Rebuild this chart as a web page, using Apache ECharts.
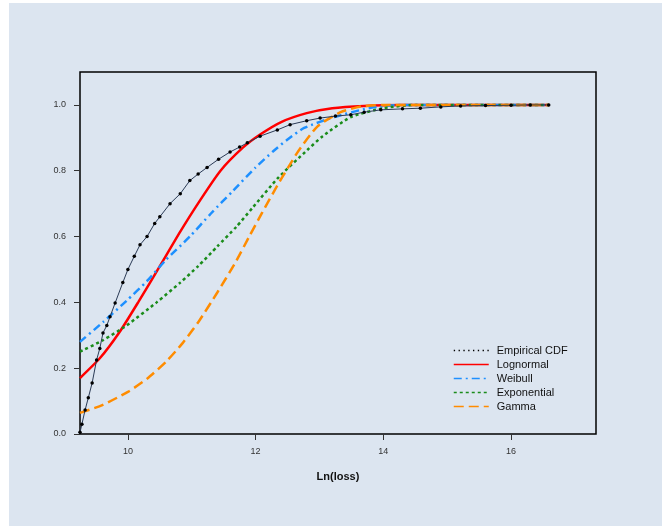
<!DOCTYPE html>
<html>
<head>
<meta charset="utf-8">
<script src="https://cdn.jsdelivr.net/npm/echarts@6/dist/echarts.min.js"></script>
<style>
html,body{margin:0;padding:0;background:#fff;overflow:hidden;}
#chart{position:absolute;left:9px;top:3px;width:653px;height:523px;background:#dce5f0;}
</style>
</head>
<body>
<div id="chart"></div>
<script>
// ticks
var xTicks = [10, 12, 14, 16];
var yTicks = [0, 0.2, 0.4, 0.6, 0.8, 1.0];

// empirical cdf
var empX = [9.25, 9.28, 9.33, 9.38, 9.44, 9.51, 9.56, 9.61, 9.67, 9.72, 9.8, 9.92, 10.0, 10.1, 10.19, 10.3, 10.42, 10.5, 10.66, 10.82, 10.97, 11.1, 11.24, 11.42, 11.6, 11.75, 11.87, 12.07, 12.34, 12.54, 12.8, 13.01, 13.25, 13.49, 13.7, 13.96, 14.3, 14.58, 14.9, 15.21, 15.6, 16.0, 16.3, 16.59];
var empY = [0.005, 0.03, 0.073, 0.11, 0.155, 0.225, 0.26, 0.307, 0.33, 0.356, 0.398, 0.46, 0.5, 0.54, 0.575, 0.60, 0.64, 0.66, 0.70, 0.73, 0.77, 0.79, 0.81, 0.835, 0.857, 0.872, 0.885, 0.905, 0.924, 0.94, 0.952, 0.96, 0.966, 0.97, 0.978, 0.985, 0.988, 0.99, 0.994, 0.997, 0.998, 0.999, 1.0, 1.0];

// fitted distributions
var lnX = [9.25, 9.56, 9.87, 10.16, 10.5, 10.82, 11.13, 11.45, 11.8, 12.07, 12.4, 12.8, 13.2, 13.7, 14.3, 16.59];
var lnY = [0.17, 0.23, 0.31, 0.40, 0.51, 0.615, 0.71, 0.80, 0.87, 0.91, 0.948, 0.975, 0.99, 0.997, 1.0, 1.0];

var wbX = [9.25, 9.61, 9.98, 10.3, 10.6, 10.97, 11.3, 11.65, 12.0, 12.28, 12.5, 12.76, 13.23, 13.77, 14.3, 15.0, 16.59];
var wbY = [0.28, 0.34, 0.405, 0.465, 0.53, 0.60, 0.67, 0.74, 0.81, 0.86, 0.895, 0.93, 0.963, 0.99, 1.0, 1.0, 1.0];

var exX = [9.25, 9.61, 9.98, 10.45, 10.82, 11.1, 11.4, 11.7, 11.95, 12.36, 12.81, 13.05, 13.49, 14.0, 14.5, 15.5, 16.59];
var exY = [0.25, 0.285, 0.33, 0.40, 0.46, 0.51, 0.57, 0.63, 0.687, 0.78, 0.863, 0.905, 0.963, 0.99, 1.0, 1.0, 1.0];

var gmX = [9.25, 9.6, 10.0, 10.3, 10.6, 10.86, 11.12, 11.4, 11.68, 11.9, 12.1, 12.34, 12.51, 12.67, 12.97, 13.33, 13.65, 14.0, 15.0, 16.59];
var gmY = [0.064, 0.088, 0.128, 0.168, 0.22, 0.277, 0.345, 0.43, 0.52, 0.60, 0.672, 0.755, 0.81, 0.86, 0.935, 0.978, 0.995, 1.0, 1.0, 1.0];

function pairs(xs, ys){
	return xs.map(function(x, i){ return [x, ys[i]]; });
}

var myChart = echarts.init(document.getElementById("chart"));
var option = {
	backgroundColor: "#dce5f0",
	animation: false,
	grid: {
		left: 71, top: 69, right: 66, bottom: 92,
		show: true,
		borderColor: "#000",
		borderWidth: 1.5,
		backgroundColor: "transparent"
	},
	legend: {
		orient: "vertical",
		left: 439,
		top: 337,
		itemWidth: 35,
		itemHeight: 6,
		itemGap: 3,
		lineStyle: { width: 1.5 },
		itemStyle: { opacity: 0 },
		textStyle: { fontFamily: "Liberation Sans, Arial", fontSize: 11, color: "#111", padding: [0, 0, 0, 3] },
		data: [
			{ name: "Empirical CDF", itemStyle: { opacity: 1 }, icon: "path://M0,0h1.4v1.4h-1.4z M5,0h1.4v1.4h-1.4z M10,0h1.4v1.4h-1.4z M15,0h1.4v1.4h-1.4z M20,0h1.4v1.4h-1.4z M25,0h1.4v1.4h-1.4z M30,0h1.4v1.4h-1.4z M35,0h1.4v1.4h-1.4z" },
			"Lognormal", "Weibull", "Exponential", "Gamma"
		]
	},
	xAxis: {
		type: "value",
		min: 9.25,
		max: 17.33,
		name: "Ln(loss)",
		nameLocation: "middle",
		nameGap: 37,
		nameTextStyle: { fontFamily: "Liberation Sans, Arial", fontSize: 11, fontWeight: "bold", color: "#111" },
		axisLine: { show: false },
		splitLine: { show: false },
		axisTick: { show: true, length: 6, customValues: xTicks, lineStyle: { color: "#333" } },
		axisLabel: { customValues: xTicks, margin: 13, fontSize: 9, color: "#333", fontFamily: "Liberation Sans, Arial" }
	},
	yAxis: {
		type: "value",
		min: 0,
		max: 1.1,
		axisLine: { show: false },
		splitLine: { show: false },
		axisTick: { show: true, length: 6, customValues: yTicks, lineStyle: { color: "#333" } },
		axisLabel: {
			customValues: yTicks, margin: 14, fontSize: 9, color: "#333", fontFamily: "Liberation Sans, Arial",
			formatter: function(v){ return v.toFixed(1); }
		}
	},
	series: [
		{
			name: "Empirical CDF", type: "line",
			data: pairs(empX, empY),
			symbol: "circle", symbolSize: 3.5, showSymbol: true,
			itemStyle: { color: "#000" },
			lineStyle: { color: "#2a3a55", width: 1 },
			z: 5
		},
		{
			name: "Lognormal", type: "line", smooth: 0.2, symbol: "none",
			data: pairs(lnX, lnY),
			itemStyle: { color: "#ff0000" },
			lineStyle: { color: "#ff0000", width: 2.5 }
		},
		{
			name: "Weibull", type: "line", smooth: 0.2, symbol: "none",
			data: pairs(wbX, wbY),
			itemStyle: { color: "#1e90ff" },
			lineStyle: { color: "#1e90ff", width: 2.5, type: [8, 4, 2, 4] }
		},
		{
			name: "Exponential", type: "line", smooth: 0.2, symbol: "none",
			data: pairs(exX, exY),
			itemStyle: { color: "#1a8c1a" },
			lineStyle: { color: "#1a8c1a", width: 2.5, type: [3, 3] }
		},
		{
			name: "Gamma", type: "line", smooth: 0.2, symbol: "none",
			data: pairs(gmX, gmY),
			itemStyle: { color: "#ff8c00" },
			lineStyle: { color: "#ff8c00", width: 2.5, type: [10, 5] }
		}
	]
};
myChart.setOption(option);
</script>
</body>
</html>
